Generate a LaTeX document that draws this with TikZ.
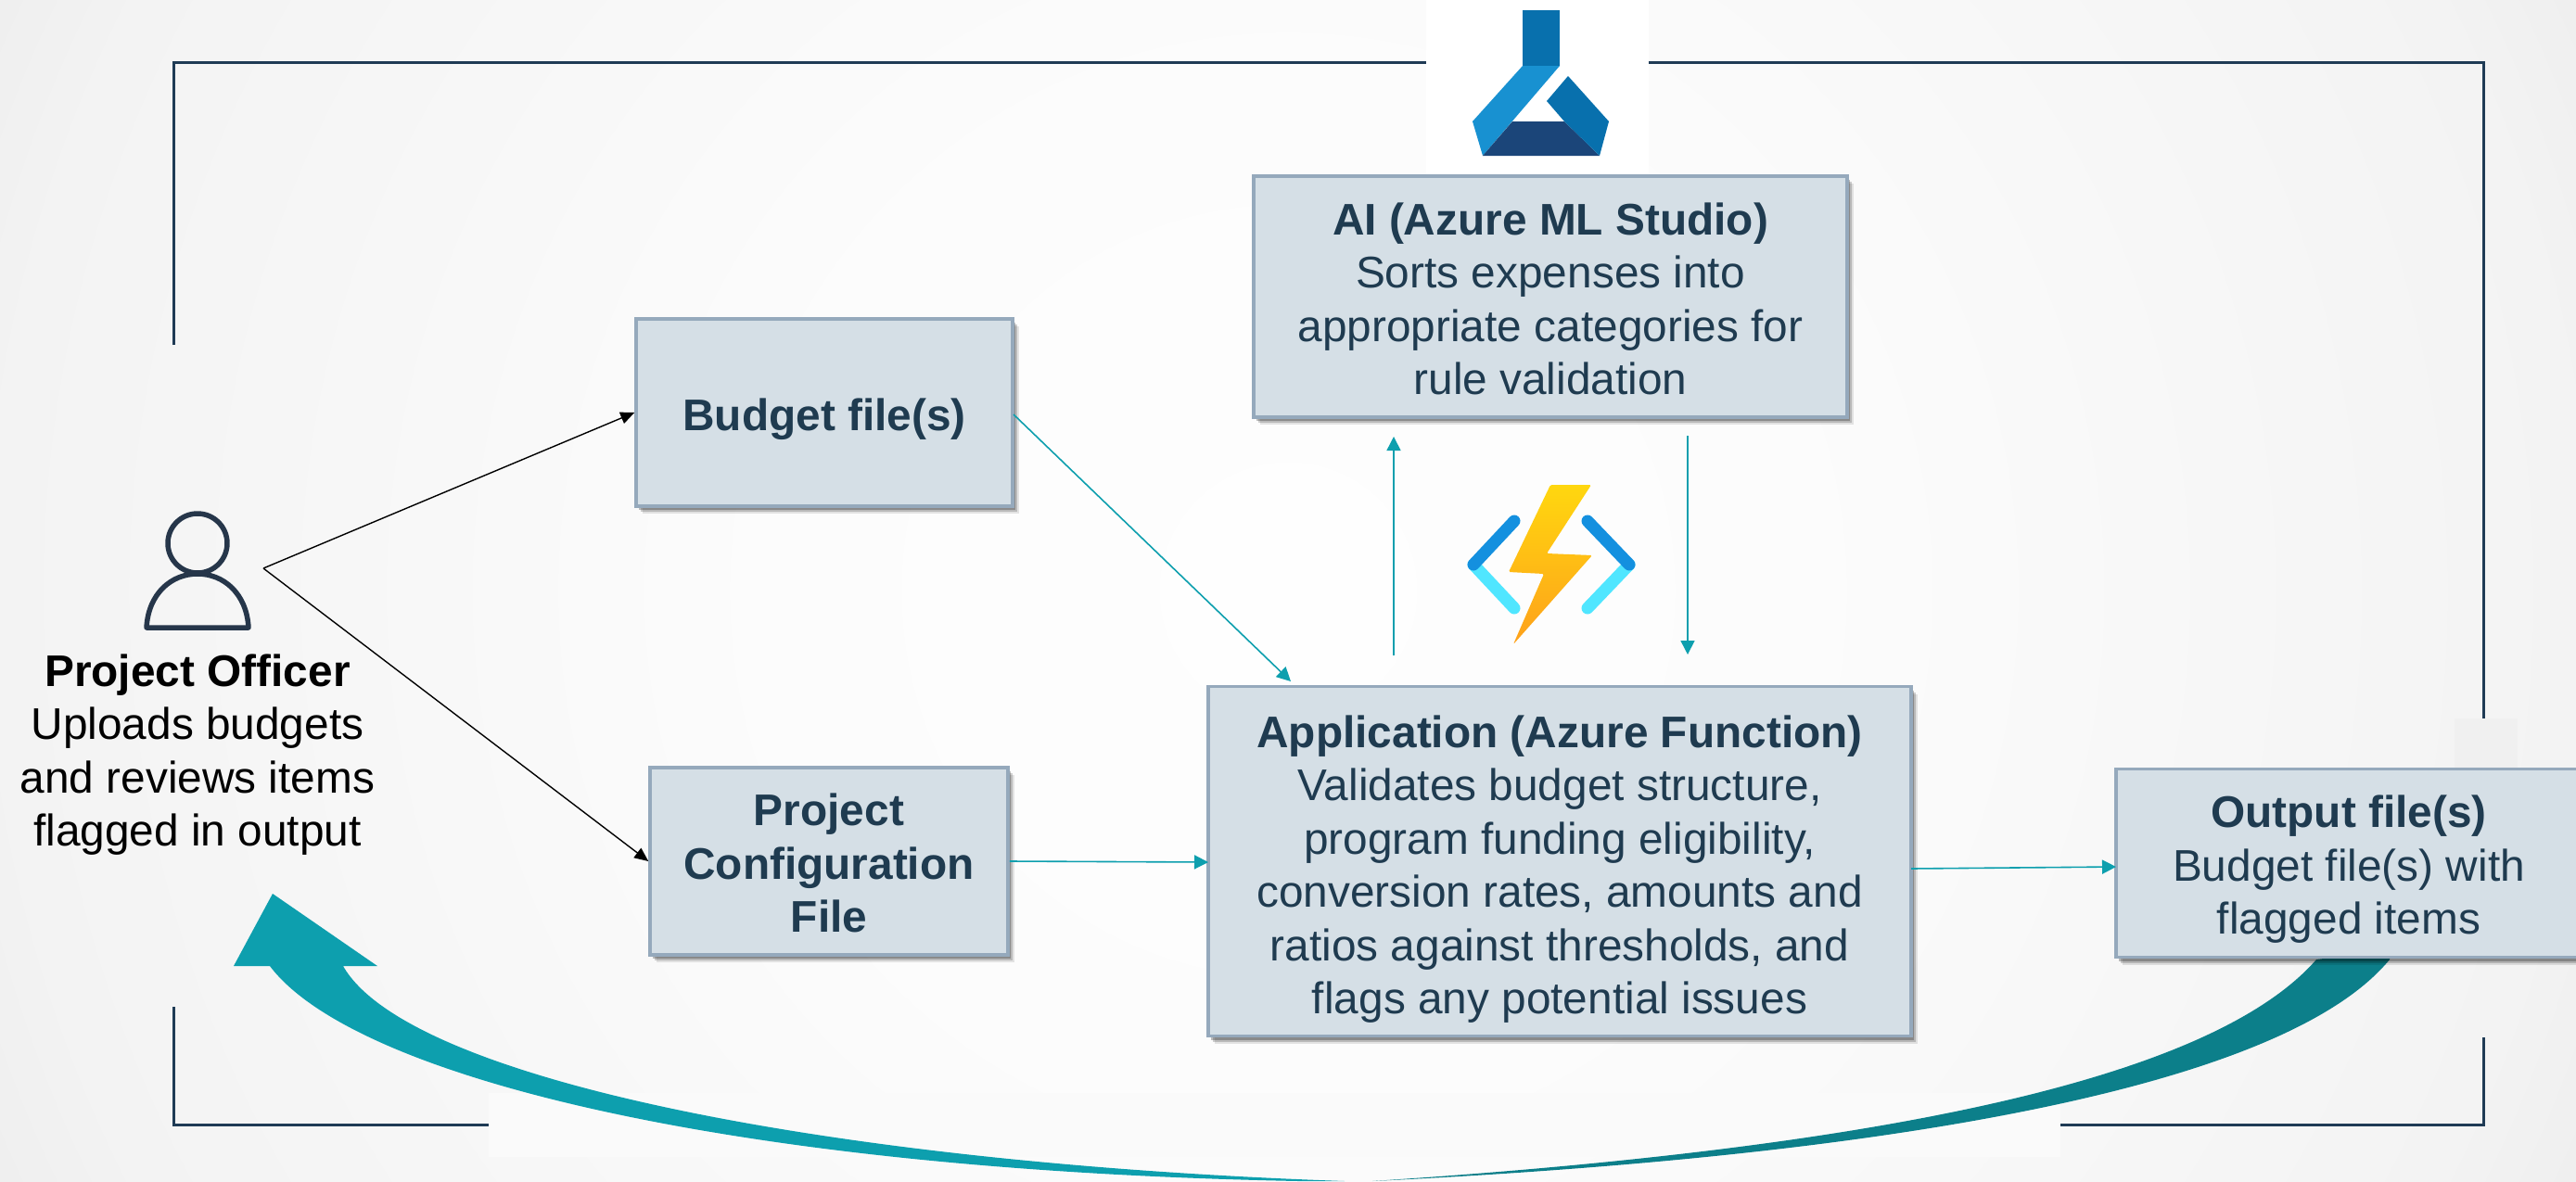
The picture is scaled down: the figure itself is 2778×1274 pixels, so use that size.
\documentclass[tikz,border=0pt]{standalone}
\usepackage{fontspec}
\setmainfont{Liberation Sans}
\usetikzlibrary{arrows.meta,shadows}
\definecolor{bgA}{HTML}{FEFEFE}
\definecolor{bgB}{HTML}{FCFCFC}
\definecolor{bgC}{HTML}{F3F3F3}
\definecolor{bgD}{HTML}{EEEEEE}
\definecolor{boxfill}{HTML}{D5DFE6}
\definecolor{boxline}{HTML}{95A9BC}
\definecolor{boxtext}{HTML}{1F3B50}
\definecolor{frameline}{HTML}{1F3B55}
\definecolor{tealline}{HTML}{0D9FAE}
\definecolor{tealdark}{HTML}{0C7F8A}
\definecolor{iconink}{HTML}{26364A}
\definecolor{mlmid}{HTML}{0870AD}
\definecolor{mllight}{HTML}{1891D1}
\definecolor{mlnavy}{HTML}{1B4579}
\definecolor{fnblue}{HTML}{1490DF}
\definecolor{fncyan}{HTML}{50E6FF}
\definecolor{boltA}{HTML}{FFD70F}
\definecolor{boltB}{HTML}{FEA11B}
\pgfdeclareradialshading{bgshade}{\pgfpoint{0bp}{0bp}}{color(0bp)=(bgA); color(10bp)=(bgB); color(25bp)=(bgC); color(28bp)=(bgD); color(50bp)=(bgD)}
\newcommand{\firstline}[1]{\rule{0pt}{#1pt}}
\tikzset{
  filebox/.style={rectangle,draw=boxline,line width=3.5pt,fill=boxfill,text=boxtext,align=center,inner sep=0pt,
    font=\fontsize{47.8}{57.5}\selectfont,
    drop shadow={shadow xshift=7pt,shadow yshift=-8pt,fill=black,opacity=.10},
    drop shadow={shadow xshift=5pt,shadow yshift=-6pt,fill=black,opacity=.18},
    drop shadow={shadow xshift=3pt,shadow yshift=-4pt,fill=black,opacity=.25}},
  frameseg/.style={draw=frameline,line width=3pt,line cap=butt},
  flowteal/.style={draw=tealline,line width=1.6pt,-{Triangle[length=15pt,width=15pt]}},
  flowblack/.style={draw=black,line width=1.4pt,-{Triangle[length=15pt,width=13pt]}},
  iconstroke/.style={draw=iconink,line width=5.5pt,line join=round},
  chevron/.style={line width=13pt,line cap=round}
}
\begin{document}
\begin{tikzpicture}[x=1pt,y=-1pt]
\useasboundingbox (0,0) rectangle (2778,1274);
\clip (0,0) rectangle (2778,1274);
% background
\shade[shading=bgshade] (0,-752) rectangle (2778,2026);
\fill[white] (1538,0) rectangle (1778,188);
\fill[black!6] (2647,775) rectangle (2715,835);
% frame
\draw[frameseg] (187,372) -- (187,67) -- (1538,67);
\draw[frameseg] (1778,67) -- (2678,67) -- (2678,775);
\fill[white!98!black] (527,1179) rectangle (2222,1248);
\draw[frameseg] (187,1086) -- (187,1213) -- (527,1213);
\draw[frameseg] (2222,1213) -- (2678,1213) -- (2678,1119);
% big return arrow
\fill[tealdark] (1480,1274) .. controls (2000,1240) and (2380,1170) .. (2498,1035)
  -- (2577,1025) -- (2577,1035) .. controls (2470,1165) and (2080,1245) .. (1480,1274) -- cycle;
\fill[tealline] (1450,1274) .. controls (900,1255) and (440,1165) .. (370,1042)
  -- (407,1042) -- (294,964) -- (252,1042) -- (291,1042)
  .. controls (380,1160) and (780,1262) .. (1400,1274) -- cycle;
% person icon
\draw[iconstroke] (213,586) circle (32);
\draw[iconstroke] (158,677) .. controls (160,640) and (185,619) .. (213,619)
  .. controls (241,619) and (266,640) .. (268,677) -- cycle;
\node[align=center,text=black,inner sep=0pt,font=\fontsize{47.8}{57.5}\selectfont] (officer) at (213,814)
  {\textbf{Project Officer}\\Uploads budgets\\and reviews items\\flagged in output};
\coordinate (pj) at (284,613);
% boxes
\node[filebox,minimum width=406pt,minimum height=202pt] (budget) at (889,445) {\firstline{49}\textbf{Budget file(s)}};
\node[filebox,minimum width=386pt,minimum height=202pt] (config) at (894,929) {\firstline{39}\textbf{Project}\\\textbf{Configuration}\\\textbf{File}};
\node[filebox,minimum width=640pt,minimum height=260pt] (ai) at (1672,320) {\firstline{39}\textbf{AI (Azure ML Studio)}\\Sorts expenses into\\appropriate categories for\\rule validation};
\node[filebox,minimum width=758pt,minimum height=377pt] (app) at (1682,929) {\firstline{52}\textbf{Application (Azure Function)}\\Validates budget structure,\\program funding eligibility,\\conversion rates, amounts and\\ratios against thresholds, and\\flags any potential issues};
\node[filebox,minimum width=502pt,minimum height=203pt] (output) at (2533,931) {\firstline{48}\textbf{Output file(s)}\\Budget file(s) with\\flagged items};
% connectors
\coordinate (appin) at (1392,735);
\coordinate (upA) at (1503,707);
\coordinate (upB) at (1503,471);
\coordinate (dnA) at (1820,470);
\coordinate (dnB) at (1820,706);
\coordinate (cfgR) at (1303,930);
\coordinate (appR) at (2061,937);
\coordinate (outL) at (2282,935);
\coordinate (budR) at (1093,447);
\draw[flowblack] (pj) -- (budget.west);
\draw[flowblack] (pj) -- (config.west);
\draw[flowteal] (budR) -- (appin);
\draw[flowteal] (config.east) -- (cfgR);
\draw[flowteal] (appR) -- (outL);
\draw[flowteal] (upA) -- (upB);
\draw[flowteal] (dnA) -- (dnB);
% Azure ML icon
\fill[mlmid] (1642,11) rectangle (1682,71);
\fill[mllight] (1642,71) -- (1682,71) -- (1599,168) -- (1588,131) -- cycle;
\fill[mlnavy] (1599,168) -- (1725,168) -- (1687,131) -- (1631,131) -- cycle;
\fill[mlmid] (1691,82) -- (1735,131) -- (1725,168) -- (1687,131) -- (1668,109) -- cycle;
% Functions icon
\draw[chevron,draw=fncyan] (1589,609) -- (1633,656);
\draw[chevron,draw=fncyan] (1757,609) -- (1712,656);
\draw[chevron,draw=fnblue] (1633,562) -- (1589,609);
\draw[chevron,draw=fnblue] (1712,562) -- (1757,609);
\shade[top color=boltA,bottom color=boltB,rounded corners=1.5pt] (1672,523) -- (1716,523) -- (1668,597) -- (1717,599) -- (1632,695) -- (1665,619) -- (1627,617) -- cycle;
\end{tikzpicture}
\end{document}
